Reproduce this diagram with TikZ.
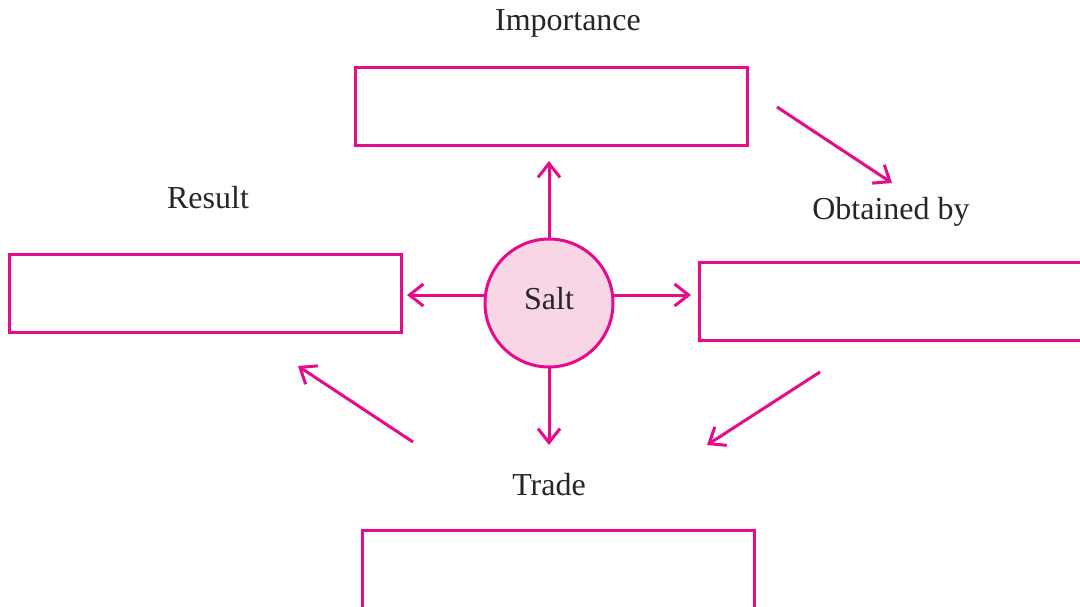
\documentclass[tikz,border=0pt]{standalone}
\usepackage{fontspec}
\setmainfont{Liberation Serif}
\usetikzlibrary{arrows.meta}
\definecolor{mag}{RGB}{232,10,140}
\definecolor{pinkfill}{RGB}{249,214,230}
\begin{document}
\begin{tikzpicture}[x=1pt,y=-1pt,
  box/.style={draw=mag,line width=3pt,minimum width=392pt,minimum height=78pt,inner sep=0pt,anchor=north west},
  lbl/.style={font=\fontsize{32}{36}\selectfont,text=black!85,inner sep=0pt},
  arr/.style={draw=mag,line width=3pt,-{Straight Barb[length=14pt,width=22pt,line width=3pt]}}]
\clip (0,0) rectangle (1080,606);
\fill[white] (0,0) rectangle (1080,606);
% boxes
\node[box] (imp) at (354,66) {};
\node[box] (res) at (8,253) {};
\node[box,minimum width=400pt] (obt) at (698,261) {};
\node[box,minimum height=100pt] (trd) at (361,529) {};
% labels
\node[lbl] (limp) at (568,23) {Importance};
\node[lbl] (lres) at (208,198) {Result};
\node[lbl] (lobt) at (891,212) {Obtained by};
\node[lbl] (ltrd) at (549,485) {Trade};
% circle
\node[circle,draw=mag,fill=pinkfill,line width=3pt,minimum size=128pt,inner sep=0pt,lbl] (salt) at (549,303) {};
\node[lbl] (salttxt) at (549,299) {Salt};
% arrow end points
\coordinate (u0) at (549,239); \coordinate (u1) at (549,161);
\coordinate (d0) at (549,368); \coordinate (d1) at (549,445);
\coordinate (l0) at (484,295); \coordinate (l1) at (407,295);
\coordinate (r0) at (614,295); \coordinate (r1) at (691,295);
\coordinate (a0) at (777,107); \coordinate (a1) at (892,183);
\coordinate (b0) at (820,372); \coordinate (b1) at (707,445);
\coordinate (c0) at (413,442); \coordinate (c1) at (298,366);
\draw[arr] (u0) -- (u1);
\draw[arr] (d0) -- (d1);
\draw[arr] (l0) -- (l1);
\draw[arr] (r0) -- (r1);
\draw[arr] (a0) -- (a1);
\draw[arr] (b0) -- (b1);
\draw[arr] (c0) -- (c1);
\end{tikzpicture}
\end{document}
